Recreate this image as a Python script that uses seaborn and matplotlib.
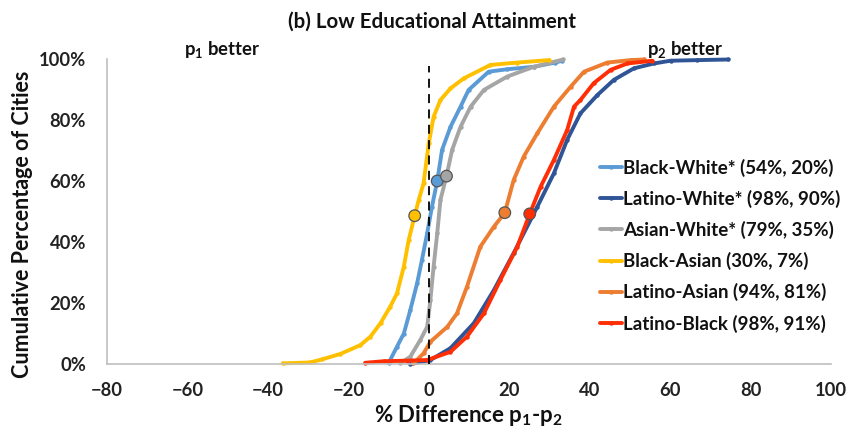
import matplotlib
matplotlib.use("Agg")
import matplotlib.pyplot as plt
import seaborn as sns
import pandas as pd
from matplotlib.ticker import FuncFormatter

# ---- data ----
labels = ["Black-White* (54%, 20%)", "Latino-White* (98%, 90%)", "Asian-White* (79%, 35%)",
          "Black-Asian (30%, 7%)", "Latino-Asian (94%, 81%)", "Latino-Black (98%, 91%)"]
colors = ["#5B9BD5", "#2F5597", "#A5A5A5", "#FFC000", "#ED7D31", "#FF2E05"]

bw_x = [-10.0, -7.9, -6.2, -4.6, -2.9, -1.7, -0.4, 0.8, 2.1, 3.3, 5.4, 7.9, 9.9, 14.9, 19.5, 26.1, 31.5, 33.2]
bw_y = [0.3, 5.7, 10, 17.7, 26.5, 34.2, 42.9, 51.7, 60.1, 70.3, 77.9, 84.5, 90, 96, 96.8, 97.6, 99, 99.6]

lw_x = [-4.6, 0.4, 5.4, 11.2, 16.2, 21.1, 27.0, 31.1, 34.4, 37.7, 41.9, 46.0, 51.0, 56.0, 60.1, 66.8, 74.5]
lw_y = [0, 1.3, 5.2, 13.4, 24.3, 36.4, 51.7, 62.6, 73.6, 82.3, 88.3, 93.3, 97.1, 98.7, 99.6, 99.8, 100]

aw_x = [-7.1, -4.6, -2.1, -0.4, 0.4, 1.2, 2.1, 2.9, 4.4, 5.8, 7.9, 10.4, 13.7, 19.5, 26.1, 33.4]
aw_y = [0.2, 2.4, 7.9, 12.2, 21, 32, 42.9, 53.9, 61.7, 70.3, 77.9, 84.5, 90, 94.4, 97.6, 100]

ba_x = [-36.3, -29.5, -26.6, -22.0, -17.0, -14.5, -12.0, -9.6, -7.9, -6.2, -5.0, -3.5, -2.5, -1.3, 0.0,
        1.2, 2.9, 5.4, 8.7, 15.3, 22.0, 29.9]
ba_y = [0.2, 0.5, 1.5, 3.3, 6.2, 9, 13.4, 18.8, 23.2, 32, 40.7, 48.7, 53.9, 59.3, 72.5,
        81.2, 86.7, 90.5, 93.8, 98.2, 99, 99.8]

la_x = [-3.8, -1.3, 0.4, 4.6, 7.0, 9.5, 12.8, 16.2, 18.9, 21.1, 23.6, 27.0, 31.1, 35.3, 38.6, 44.4, 50.2, 53.5]
la_y = [0.2, 3.5, 7.3, 12.2, 16.6, 25.4, 38.5, 45.1, 49.7, 60.4, 68.1, 75.8, 84.5, 91.1, 96, 99, 99.8, 100]

lb_x = [-15.8, -11.2, -5.4, -0.4, 5.4, 9.5, 13.7, 17.8, 22.0, 25.1, 27.8, 31.1, 34.4, 36.1, 37.7, 41.0,
        45.2, 49.4, 55.6]
lb_y = [0.4, 0.9, 1.1, 1.3, 4, 9, 16.6, 27.6, 38.5, 49.3, 58.2, 67, 76.8, 84.5, 86.7, 92.2,
        96.6, 98.7, 99.6]

median_pairs = [labels[0], labels[2], labels[3], labels[4], labels[5]]
median_x = [2.1, 4.4, -3.5, 18.9, 25.1]
median_y = [60.1, 61.7, 48.7, 49.7, 49.3]

x_ticks = [-80, -60, -40, -20, 0, 20, 40, 60, 80, 100]
y_ticks = [0, 20, 40, 60, 80, 100]

# ---- build tables ----
series = [(bw_x, bw_y), (lw_x, lw_y), (aw_x, aw_y), (ba_x, ba_y), (la_x, la_y), (lb_x, lb_y)]
rows = []
for lab, (xs, ys) in zip(labels, series):
    for a, b in zip(xs, ys):
        rows.append({"pair": lab, "diff": a, "cum": b})
df = pd.DataFrame(rows)
med = pd.DataFrame({"pair": median_pairs, "diff": median_x, "cum": median_y})
palette = dict(zip(labels, colors))

# ---- style ----
sns.set_theme(style="white")
plt.rcParams["font.family"] = ["Lato", "DejaVu Sans"]
plt.rcParams["font.weight"] = "bold"
plt.rcParams["mathtext.fontset"] = "custom"
plt.rcParams["mathtext.rm"] = "Lato:bold"
plt.rcParams["mathtext.it"] = "Lato:bold"
plt.rcParams["mathtext.bf"] = "Lato:bold"

fig = plt.figure(figsize=(8.51, 4.44), dpi=100)
ax = fig.add_axes([107 / 851, 1 - 364 / 444, (831 - 107) / 851, (364 - 59.5) / 444])

for lab in labels:
    sub = df[df["pair"] == lab]
    sns.lineplot(data=sub, x="diff", y="cum", color=palette[lab], sort=False, estimator=None,
                 linewidth=2.8, marker="o", markersize=3.2, markeredgewidth=0, ax=ax,
                 label=lab, clip_on=False)

sns.scatterplot(data=med, x="diff", y="cum", hue="pair", palette=palette, s=70,
                edgecolor="#555555", linewidth=0.9, ax=ax, legend=False, zorder=5, clip_on=False)

ax.axvline(0, ymin=0, ymax=0.98, color="black", linestyle=(0, (5, 3.5)), linewidth=1.3, zorder=6)

ax.set_xlim(-80, 100)
ax.set_ylim(0, 100)
ax.set_xticks(x_ticks)
ax.set_yticks(y_ticks)
ax.yaxis.set_major_formatter(FuncFormatter(lambda v, p: f"{int(v)}%"))
ax.tick_params(axis="both", length=0, labelsize=13.2, colors="#222222")
ax.tick_params(axis="x", pad=13)
ax.tick_params(axis="y", pad=15)
for t in ax.get_xticklabels() + ax.get_yticklabels():
    t.set_fontweight("bold")
for s in ["top", "right"]:
    ax.spines[s].set_visible(False)
for s in ["left", "bottom"]:
    ax.spines[s].set_color("#BFBFBF")
    ax.spines[s].set_linewidth(1.2)

ax.set_xlabel("% Difference p$_1$-p$_2$", fontsize=16, fontweight="bold", color="#111111")
ax.set_ylabel("Cumulative Percentage of Cities", fontsize=15.5, fontweight="bold", color="#111111")
ax.xaxis.set_label_coords((468 - 107) / 724, -(415 - 364) / 304.5)
ax.yaxis.set_label_coords((22 - 107) / 724, (364 - 224) / 304.5)
ax.xaxis.label.set_va("center")
ax.yaxis.label.set_va("center")

fig.text(432 / 851, 1 - 22 / 444, "(b) Low Educational Attainment", ha="center", va="center",
         fontsize=14.8, fontweight="bold", color="#111111")
fig.text(222 / 851, 1 - 50 / 444, "p$_1$ better", ha="center", va="center", fontsize=13.3,
         fontweight="bold", color="#111111")
fig.text(685 / 851, 1 - 50 / 444, "p$_2$ better", ha="center", va="center", fontsize=13.3,
         fontweight="bold", color="#111111")

leg = ax.legend(loc="upper left", bbox_to_anchor=(600 / 851, 1 - 158.5 / 444),
                bbox_transform=fig.transFigure, frameon=False, fontsize=13.5,
                handlelength=1.15, handletextpad=0.1, labelspacing=0.7, borderpad=0,
                borderaxespad=0)
for t in leg.get_texts():
    t.set_fontweight("bold")
    t.set_color("#111111")

fig.savefig("out.png", dpi=100)
